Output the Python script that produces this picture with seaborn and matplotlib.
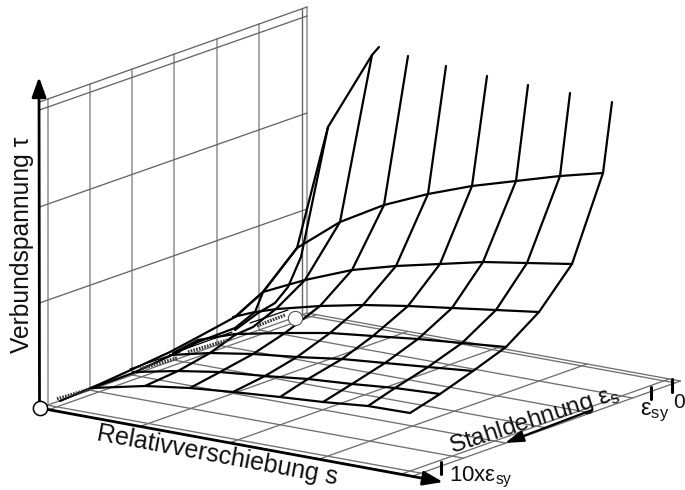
import numpy as np
import matplotlib
matplotlib.use("Agg")
import matplotlib.pyplot as plt
import seaborn as sns

sns.set_theme(style="white")
plt.rcParams['font.family'] = ['Liberation Sans', 'DejaVu Sans']
plt.rcParams['mathtext.fontset'] = 'custom'
plt.rcParams['mathtext.rm'] = 'Liberation Sans'
plt.rcParams['mathtext.it'] = 'Liberation Sans'

# Surface grid (image pixel scale), columns right to left
top_x  = [612, 570, 528, 487, 446, 408, 372, 328]
top_y  = [102,  93,  85,  76,  66,  56,  55, 127]
row1_x = [603, 560, 516, 472, 428, 384, 340, 297, 263, 235, 200, 170, 133, 100, 60]
row1_y = [173, 176, 181, 186, 194, 205, 222, 248, 292, 317, 336, 352, 369, 384, 401]
row2_x = [572, 527, 483, 440, 396, 352, 305, 263, 235]
row2_y = [264, 263, 262, 264, 266, 270, 280, 292, 317]
row3_x = [539, 496, 452, 408, 363, 320, 277, 255, 233]
row3_y = [312, 310, 308, 306, 305, 306, 309, 312, 317]
row4_x = [506, 462, 418, 373, 330, 285, 235, 198, 173]
row4_y = [347, 343, 339, 336, 333, 333, 334, 340, 353]
row5_x = [473, 428, 385, 342, 297, 253, 210, 170]
row5_y = [371, 367, 363, 359, 357, 354, 353, 355]
row6_x = [440, 395, 352, 308, 265, 220, 178, 133]
row6_y = [394, 388, 384, 379, 376, 372, 371, 372]
row7_x = [410, 368, 323, 280, 233, 190, 145, 92]
row7_y = [413, 406, 402, 397, 392, 388, 386, 388]
col7_x = [372, 340, 305, 277, 253, 235, 210, 178, 145]
col7_y = [55, 222, 280, 308, 327, 335, 353, 371, 386]
col8_x = [328, 297, 263, 255, 235, 198, 170, 133, 92]
col8_y = [127, 248, 292, 312, 328, 342, 356, 373, 388]
ridge_x = [372, 379]
ridge_y = [55, 47]
inner_x = [328, 301, 288, 275, 258, 235]
inner_y = [127, 257, 287, 303, 313, 330]
col_count = 6

# Hatched dense bands along the ridge, and the thin edges next to them
band_x = [[57, 90], [140, 177], [188, 228], [257, 285]]
band_y = [[399, 389], [369, 358], [352, 340], [326, 315]]
edge_x = [[130, 180], [185, 232], [250, 288]]
edge_y = [[369, 352], [349, 332], [323, 310]]

# Frame of the wall and floor
origin = (39.5, 408)
back = (307, 313)
front = (413, 476)
wall_top1 = (102, 7)
wall_top2 = (110, 16)
wall_grid1 = (207, 113)
wall_grid2 = (303, 209)
depth_pos = [0.03, 0.188, 0.347, 0.504, 0.664, 0.821, 0.98, 1.0]
slip_pos = [0.0, 0.025, 0.27, 0.51, 0.75, 0.97, 1.0]

fig = plt.figure(figsize=(6.85, 4.9), dpi=100, facecolor='white')
ax = fig.add_axes([0, 0, 1, 1])
ax.set_xlim(0, 685)
ax.set_ylim(490, 0)
ax.axis('off')


def line(x, y, color='black', lw=1.6, z=3, **kw):
    sns.lineplot(x=list(x), y=list(y), sort=False, estimator=None, ax=ax,
                 color=color, linewidth=lw, zorder=z, legend=False, **kw)


vx = back[0] - origin[0]
vy = back[1] - origin[1]
ux = front[0] - origin[0]
uy = front[1] - origin[1]

# Back wall
for t in depth_pos:
    x = origin[0] + vx * t
    ybot = origin[1] + vy * t
    ytop = wall_top1[0] + (wall_top1[1] - wall_top1[0]) * t
    col = '#666666' if t == 0.98 else '#a8a8a8'
    line([x, x], [ytop, ybot], color=col, lw=1.0 if t == 0.98 else 1.4, z=1)
for a, b in (wall_top1, wall_top2, wall_grid1, wall_grid2):
    line([origin[0], back[0]], [a, b], color='#666666', lw=0.95, z=1)

# Floor grid
for t in [0.0] + depth_pos:
    x0 = origin[0] + vx * t
    y0 = origin[1] + vy * t
    line([x0, x0 + ux], [y0, y0 + uy], color='#707070', lw=0.95, z=1)
for f in slip_pos:
    x0 = origin[0] + ux * f
    y0 = origin[1] + uy * f
    line([x0, x0 + vx], [y0, y0 + vy], color='#707070', lw=0.95, z=1)

# Surface
rows_x = [row1_x, row2_x, row3_x, row4_x, row5_x, row6_x, row7_x]
rows_y = [row1_y, row2_y, row3_y, row4_y, row5_y, row6_y, row7_y]
for rx, ry in zip(rows_x, rows_y):
    line(rx, ry)
for j in range(col_count):
    line([top_x[j]] + [r[j] for r in rows_x], [top_y[j]] + [r[j] for r in rows_y])
line(col7_x, col7_y)
line(col8_x, col8_y)
line(top_x[-1:] + ridge_x, top_y[-1:] + ridge_y)
line(inner_x, inner_y)
for bx, by in zip(edge_x, edge_y):
    line(bx, by, lw=0.9)
for bx, by in zip(band_x, band_y):
    line(bx, by, color='#3a3a3a', lw=2.4, dashes=(0.5, 0.35))

# Axes with arrowheads
arrow = dict(arrowstyle='-|>,head_length=0.75,head_width=0.27', color='black', lw=2.0,
             shrinkA=0, shrinkB=0, mutation_scale=16)
thin = dict(arrowstyle='-|>,head_length=0.8,head_width=0.25', color='black', lw=1.6,
            shrinkA=0, shrinkB=0, mutation_scale=14)
ax.annotate('', xy=(39, 77), xytext=origin, arrowprops=arrow, zorder=5)
ax.annotate('', xy=(443, 482), xytext=origin, arrowprops=arrow, zorder=5)
ax.annotate('', xy=(505, 443), xytext=(592, 410), arrowprops=thin, zorder=5)

# Tick marks on the strain axis
line([672, 672], [379, 392], lw=2.2, z=5)
line([651, 651], [387, 399], lw=2.2, z=5)
line([441, 441], [462, 474], lw=2.2, z=5)

# Node circles
sns.scatterplot(x=[40], y=[408], s=105, color='white', edgecolor='black',
                linewidth=1.1, ax=ax, zorder=6, legend=False)
sns.scatterplot(x=[295], y=[318], s=105, color='white', edgecolor='#555555',
                linewidth=0.8, ax=ax, zorder=6, legend=False)

# Labels
ax.text(22, 245, 'Verbundspannung τ', rotation=90, ha='center', va='center',
        fontsize=17.7, color='#111111')
ax.text(217, 455, 'Relativverschiebung s', rotation=-10.5, ha='center', va='center',
        fontsize=18, color='#111111', rotation_mode='anchor')
ax.text(534, 420, r'Stahldehnung ε$_{\mathrm{s}}$', rotation=18, ha='center', va='center',
        fontsize=17.5, color='#111111', rotation_mode='anchor')
ax.text(655, 412, r'ε$_{\mathrm{sy}}$', ha='center', va='center', fontsize=17, color='#111111')
ax.text(673, 402, '0', ha='left', va='center', fontsize=15, color='#111111')
ax.text(449, 477, r'10xε$_{\mathrm{sy}}$', ha='left', va='center', fontsize=16, color='#111111')

fig.savefig('out.png', dpi=100, facecolor='white')
